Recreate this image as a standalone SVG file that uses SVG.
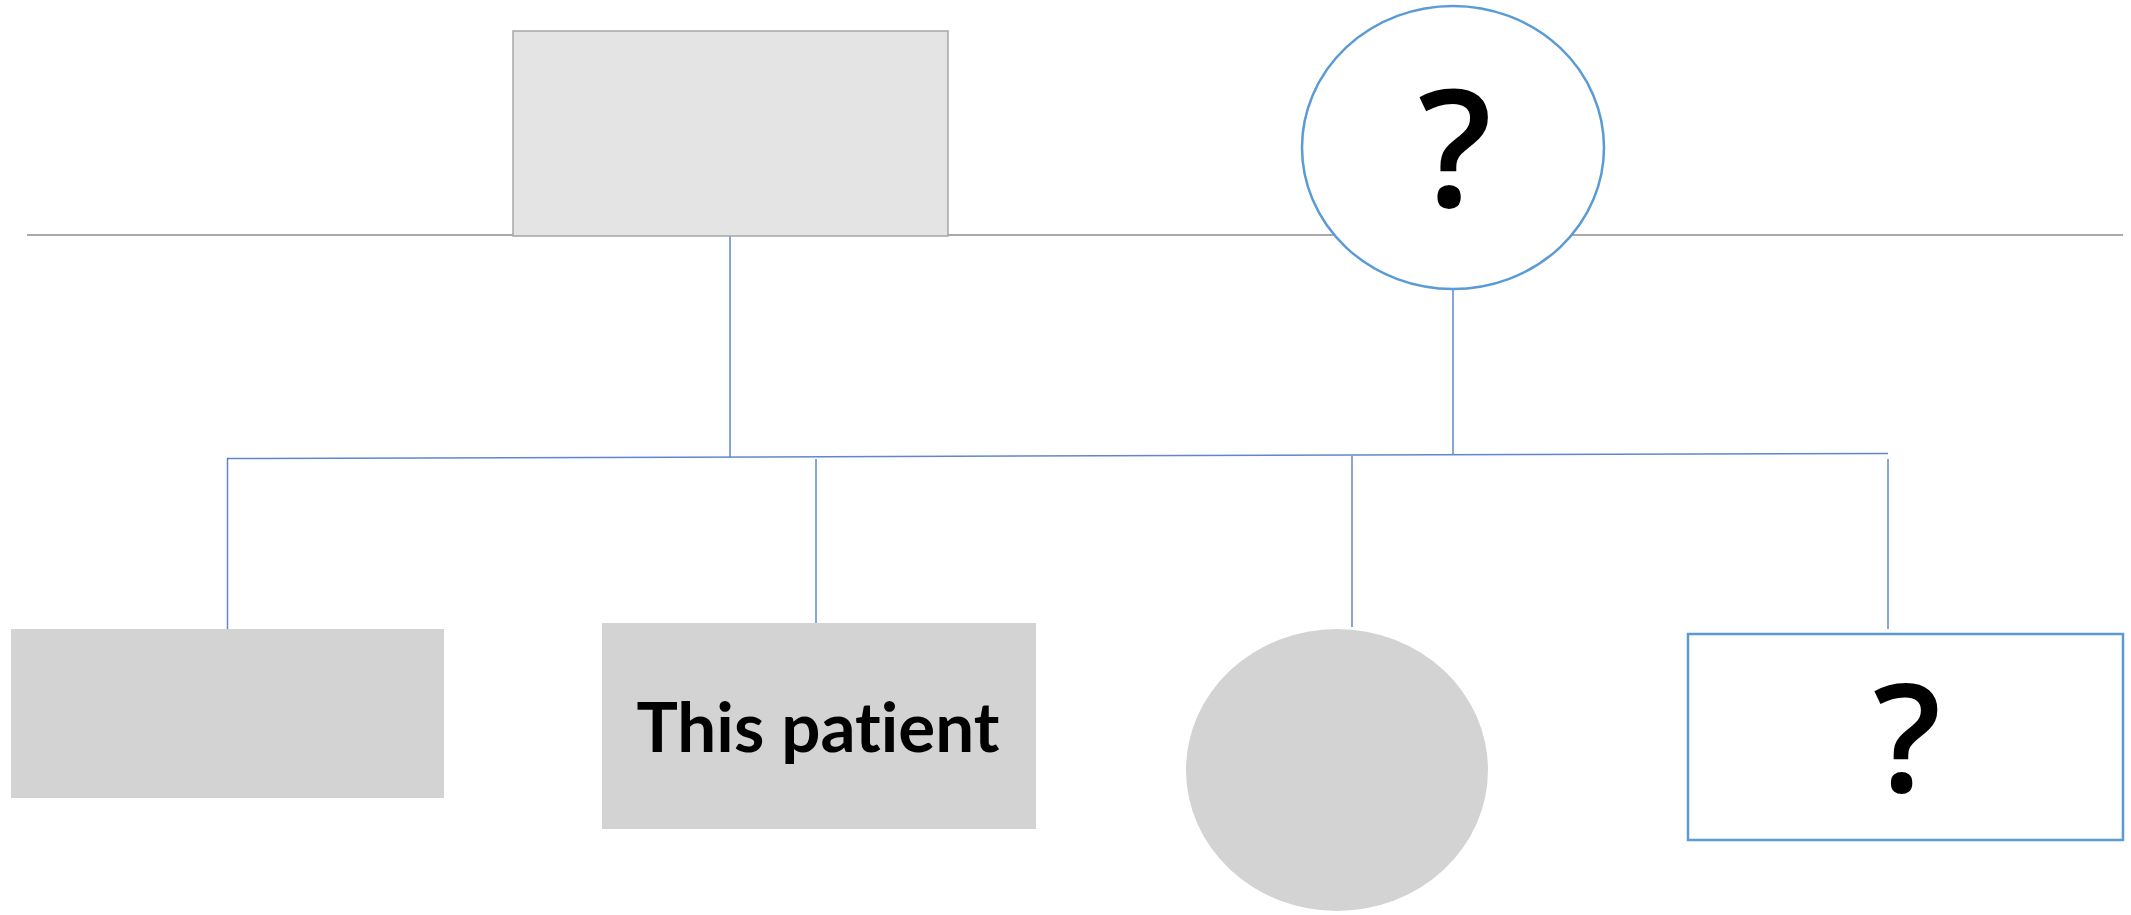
<svg xmlns="http://www.w3.org/2000/svg" width="2131" height="915" viewBox="0 0 2131 915">
<style>
.gen{stroke:#8c8c8c;stroke-width:1.5;fill:none}
.conn{stroke:#4472c4;stroke-width:1.5;fill:none;opacity:0.85}
.unk{fill:#fff;stroke:#5b9bd5;stroke-width:2.5}
.gray{fill:#d3d3d3;stroke:none}
.q{font-family:"Open Sans","Liberation Sans",sans-serif;font-weight:600;fill:#000;text-anchor:middle}
.lbl{font-family:"Lato","Open Sans","Liberation Sans",sans-serif;font-weight:bold;fill:#000;text-anchor:middle;font-variant-ligatures:none}
</style>
<g id="connectors">
<line class="gen" x1="27" y1="235" x2="2123" y2="235"/>
<line class="conn" x1="730" y1="236" x2="730" y2="457"/>
<line class="conn" x1="1453" y1="289" x2="1453" y2="454"/>
<line class="conn" x1="227" y1="458.5" x2="1888" y2="453.5"/>
<line class="conn" x1="227.5" y1="458" x2="227.5" y2="629"/>
<line class="conn" x1="816" y1="459" x2="816" y2="629"/>
<line class="conn" x1="1352" y1="456" x2="1352" y2="627"/>
<line class="conn" x1="1888" y1="459" x2="1888" y2="629"/>
</g>
<g id="father">
<rect x="513" y="31" width="435" height="205" fill="#e4e4e4" stroke="#a6a6a6" stroke-width="1.5"/>
</g>
<g id="mother">
<ellipse class="unk" cx="1453" cy="147.5" rx="151" ry="141.5"/>
<text class="q" x="1455" y="207" font-size="163">?</text>
</g>
<g id="sibling1">
<rect class="gray" x="11" y="629" width="433" height="169"/>
</g>
<g id="patient">
<rect class="gray" x="602" y="623" width="434" height="206"/>
<text class="lbl" x="818" y="752" font-size="68" textLength="363" lengthAdjust="spacingAndGlyphs">This patient</text>
</g>
<g id="sibling3">
<ellipse class="gray" cx="1337" cy="770" rx="151" ry="141"/>
</g>
<g id="sibling4">
<rect class="unk" x="1688" y="634" width="435" height="206"/>
<text class="q" x="1907" y="792" font-size="150">?</text>
</g>
</svg>
